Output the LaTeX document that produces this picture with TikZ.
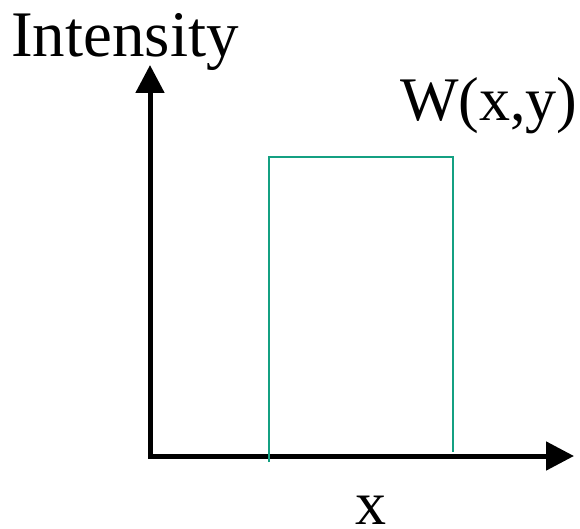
\documentclass[tikz,border=0pt]{standalone}
\usepackage{fontspec}
\setmainfont{Liberation Serif}
\usepackage{xcolor}
\usepackage{tikz}
\usetikzlibrary{arrows.meta, positioning}
\definecolor{boxteal}{RGB}{20,160,130}
\tikzset{
  axis/.style={draw=black, line width=5pt, line join=miter},
  window/.style={draw=boxteal, line width=2pt},
  bigtext/.style={inner sep=0pt, font=\fontsize{62}{70}\selectfont},
}
\begin{document}
\begin{tikzpicture}[x=1pt, y=-1pt]
  \useasboundingbox (0,0) rectangle (580,529);
  % axes
  \coordinate (O) at (150,456);
  \coordinate (ytip) at (150,65);
  \coordinate (xtip) at (574,456);
  \draw[axis, {Triangle[length=28pt, width=28pt]}-{Triangle[length=28pt, width=28pt]}] (ytip) -- (O) -- (xtip);
  % window
  \coordinate (wl) at (269,462);
  \coordinate (wr) at (453,452);
  \draw[window] (wl) |- (453,157) -- (wr);
  % labels
  \node[bigtext, font=\fontsize{65}{70}\selectfont, anchor=base west] (ylab) at (11,57) {Intensity};
  \node[bigtext, anchor=base west] (wlab) at (400,121) {W(x,y)};
  \node[bigtext, anchor=base] (xlab) at (371,524) {x};
\end{tikzpicture}
\end{document}
